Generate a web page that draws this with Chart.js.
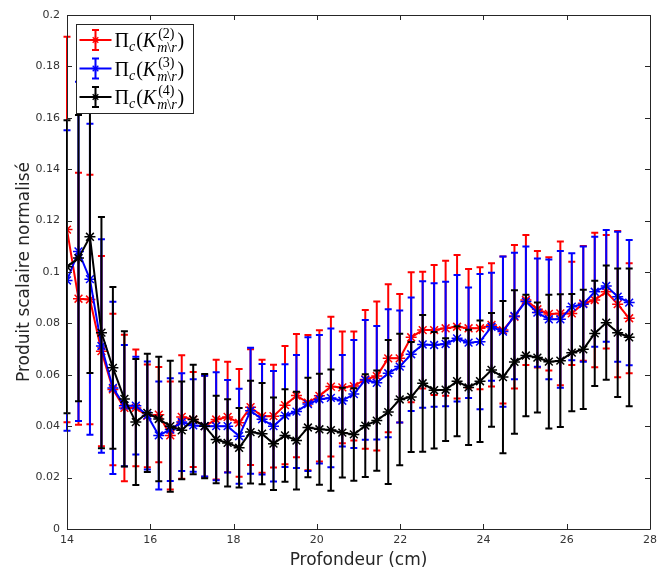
<!DOCTYPE html>
<html>
<head>
<meta charset="utf-8">
<script src="https://cdn.jsdelivr.net/npm/chart.js@4/dist/chart.umd.min.js"></script>
<style>
    body { margin: 0; background: #ffffff; }
    canvas { display: block; }
</style>
</head>
<body>
<canvas id="profileChart" width="662" height="573"></canvas>
<script>
// depth positions (cm)
const depth = [
    14.000, 14.276, 14.551, 14.827, 15.102, 15.378, 15.653, 15.929, 16.204, 16.480,
    16.755, 17.031, 17.306, 17.582, 17.857, 18.133, 18.408, 18.684, 18.959, 19.235,
    19.510, 19.786, 20.061, 20.337, 20.612, 20.888, 21.163, 21.439, 21.714, 21.990,
    22.265, 22.541, 22.816, 23.092, 23.367, 23.643, 23.918, 24.194, 24.469, 24.745,
    25.020, 25.296, 25.571, 25.847, 26.122, 26.398, 26.673, 26.949, 27.224, 27.500
];

// K(2)
const meanK2 = [
    0.1165, 0.0896, 0.0893, 0.0692, 0.0543, 0.0471, 0.0471, 0.0440, 0.0445, 0.0364,
    0.0436, 0.0426, 0.0400, 0.0426, 0.0436, 0.0413, 0.0474, 0.0439, 0.0439, 0.0482,
    0.0519, 0.0492, 0.0518, 0.0554, 0.0551, 0.0556, 0.0582, 0.0595, 0.0664, 0.0664,
    0.0746, 0.0774, 0.0774, 0.0781, 0.0787, 0.0781, 0.0781, 0.0794, 0.0774, 0.0826,
    0.0891, 0.0855, 0.0837, 0.0839, 0.0839, 0.0878, 0.0891, 0.0923, 0.0875, 0.0820
];
const errK2 = [
    0.0750, 0.0490, 0.0485, 0.0370, 0.0295, 0.0285, 0.0227, 0.0200, 0.0185, 0.0210,
    0.0240, 0.0185, 0.0197, 0.0233, 0.0215, 0.0210, 0.0225, 0.0220, 0.0200, 0.0230,
    0.0240, 0.0263, 0.0255, 0.0272, 0.0217, 0.0212, 0.0270, 0.0290, 0.0288, 0.0250,
    0.0253, 0.0227, 0.0253, 0.0263, 0.0279, 0.0231, 0.0237, 0.0240, 0.0286, 0.0279,
    0.0253, 0.0227, 0.0220, 0.0280, 0.0201, 0.0223, 0.0262, 0.0221, 0.0285, 0.0214
];

// K(3)
const meanK3 = [
    0.0967, 0.1080, 0.0972, 0.0712, 0.0549, 0.0480, 0.0480, 0.0442, 0.0364, 0.0387,
    0.0416, 0.0403, 0.0400, 0.0400, 0.0400, 0.0361, 0.0460, 0.0427, 0.0400, 0.0441,
    0.0457, 0.0486, 0.0505, 0.0510, 0.0499, 0.0525, 0.0580, 0.0569, 0.0606, 0.0632,
    0.0680, 0.0718, 0.0716, 0.0720, 0.0742, 0.0725, 0.0729, 0.0787, 0.0768, 0.0829,
    0.0885, 0.0842, 0.0816, 0.0816, 0.0865, 0.0875, 0.0923, 0.0946, 0.0904, 0.0881
];
const errK3 = [
    0.0585, 0.0660, 0.0605, 0.0415, 0.0335, 0.0236, 0.0190, 0.0210, 0.0210, 0.0200,
    0.0190, 0.0180, 0.0196, 0.0210, 0.0180, 0.0185, 0.0245, 0.0215, 0.0215, 0.0200,
    0.0220, 0.0260, 0.0250, 0.0270, 0.0178, 0.0210, 0.0233, 0.0221, 0.0249, 0.0218,
    0.0221, 0.0246, 0.0240, 0.0242, 0.0246, 0.0215, 0.0263, 0.0210, 0.0292, 0.0246,
    0.0214, 0.0211, 0.0233, 0.0266, 0.0208, 0.0224, 0.0214, 0.0217, 0.0253, 0.0244
];

// K(4)
const meanK4 = [
    0.1020, 0.1054, 0.1137, 0.0764, 0.0627, 0.0506, 0.0416, 0.0452, 0.0428, 0.0400,
    0.0384, 0.0426, 0.0400, 0.0348, 0.0335, 0.0316, 0.0377, 0.0371, 0.0332, 0.0364,
    0.0344, 0.0395, 0.0388, 0.0385, 0.0375, 0.0368, 0.0402, 0.0422, 0.0455, 0.0504,
    0.0514, 0.0567, 0.0540, 0.0542, 0.0575, 0.0551, 0.0575, 0.0619, 0.0591, 0.0650,
    0.0675, 0.0667, 0.0651, 0.0655, 0.0686, 0.0699, 0.0761, 0.0803, 0.0764, 0.0746
];
const errK4 = [
    0.0570, 0.0557, 0.0530, 0.0450, 0.0315, 0.0263, 0.0245, 0.0230, 0.0242, 0.0255,
    0.0190, 0.0213, 0.0203, 0.0170, 0.0170, 0.0155, 0.0200, 0.0197, 0.0180, 0.0180,
    0.0190, 0.0194, 0.0216, 0.0236, 0.0175, 0.0180, 0.0200, 0.0195, 0.0280, 0.0256,
    0.0214, 0.0266, 0.0227, 0.0200, 0.0214, 0.0224, 0.0236, 0.0221, 0.0296, 0.0279,
    0.0236, 0.0214, 0.0260, 0.0258, 0.0228, 0.0232, 0.0205, 0.0222, 0.0250, 0.0268
];

const seriesOrders = ['2', '3', '4'];
const seriesColors = ['#ff0000', '#0000ff', '#000000'];

const xTicks = [14, 16, 18, 20, 22, 24, 26, 28];

const axisColor = '#262626';
const capHalf = 3.5;

function makeDataset(mean, err, color, order) {
    return {
        data: depth.map((x, i) => ({ x: x, y: mean[i] })),
        errors: err,
        borderColor: color,
        backgroundColor: color,
        borderWidth: 2,
        tension: 0,
        pointStyle: 'star',
        pointRadius: 5.5,
        pointBorderWidth: 1.5,
        pointBorderColor: color,
        order: order
    };
}

// vertical error bars with caps, drawn just under each line
const errorBars = {
    id: 'errorBars',
    beforeDatasetDraw(chart, args) {
        const ds = chart.data.datasets[args.index];
        const xs = chart.scales.x;
        const ys = chart.scales.y;
        const c = chart.ctx;
        c.save();
        c.strokeStyle = ds.borderColor;
        c.lineWidth = 2;
        c.beginPath();
        ds.data.forEach((p, i) => {
            const px = xs.getPixelForValue(p.x);
            const top = ys.getPixelForValue(p.y + ds.errors[i]);
            const bot = ys.getPixelForValue(p.y - ds.errors[i]);
            c.moveTo(px, top);
            c.lineTo(px, bot);
            c.moveTo(px - capHalf, top);
            c.lineTo(px + capHalf, top);
            c.moveTo(px - capHalf, bot);
            c.lineTo(px + capHalf, bot);
        });
        c.stroke();
        c.restore();
    }
};

function drawAsterisk(c, x, y, r) {
    const d = r * Math.SQRT1_2;
    c.beginPath();
    c.moveTo(x - r, y); c.lineTo(x + r, y);
    c.moveTo(x, y - r); c.lineTo(x, y + r);
    c.moveTo(x - d, y - d); c.lineTo(x + d, y + d);
    c.moveTo(x - d, y + d); c.lineTo(x + d, y - d);
    c.stroke();
}

function drawLabel(c, x, baseline, order) {
    const big = '20px "Liberation Serif"';
    const small = '14px "Liberation Serif"';
    c.fillStyle = '#000000';
    c.textBaseline = 'alphabetic';
    c.textAlign = 'left';

    c.font = big;
    c.fillText('\u03A0', x, baseline);
    x += c.measureText('\u03A0').width;

    c.font = 'italic ' + small;
    c.fillText('c', x, baseline + 4);
    x += c.measureText('c').width + 1;

    c.font = big;
    c.fillText('(', x, baseline);
    x += c.measureText('(').width;

    c.font = 'italic ' + big;
    c.fillText('K', x, baseline);
    x += c.measureText('K').width + 1;

    c.font = small;
    const sup = '(' + order + ')';
    c.fillText(sup, x + 1, baseline - 9);
    const supW = c.measureText(sup).width + 1;

    let sx = x;
    c.font = 'italic ' + small;
    c.fillText('m', sx, baseline + 5);
    sx += c.measureText('m').width;
    c.font = small;
    c.fillText('\\', sx, baseline + 5);
    sx += c.measureText('\\').width;
    c.font = 'italic ' + small;
    c.fillText('r', sx, baseline + 5);
    sx += c.measureText('r').width;

    x = Math.max(x + supW, sx) + 1;
    c.font = big;
    c.fillText(')', x, baseline);
}

// axes box with inward ticks, then the legend on top
const frameAndLegend = {
    id: 'frameAndLegend',
    afterDraw(chart) {
        const c = chart.ctx;
        const area = chart.chartArea;
        const xs = chart.scales.x;
        const ys = chart.scales.y;
        const tl = 5;

        c.save();
        c.strokeStyle = axisColor;
        c.lineWidth = 1;
        c.beginPath();
        c.rect(Math.round(area.left) + 0.5, Math.round(area.top) + 0.5,
            Math.round(area.right - area.left), Math.round(area.bottom - area.top));
        xs.ticks.forEach(t => {
            const px = Math.round(xs.getPixelForValue(t.value)) + 0.5;
            c.moveTo(px, area.bottom); c.lineTo(px, area.bottom - tl);
            c.moveTo(px, area.top); c.lineTo(px, area.top + tl);
        });
        ys.ticks.forEach(t => {
            const py = Math.round(ys.getPixelForValue(t.value)) + 0.5;
            c.moveTo(area.left, py); c.lineTo(area.left + tl, py);
            c.moveTo(area.right, py); c.lineTo(area.right - tl, py);
        });
        c.stroke();

        // legend
        const lx = Math.round(area.left) + 9.5;
        const ly = Math.round(area.top) + 9.5;
        const lw = 117;
        const lh = 89;
        c.fillStyle = '#ffffff';
        c.fillRect(lx, ly, lw, lh);
        c.strokeStyle = axisColor;
        c.strokeRect(lx, ly, lw, lh);

        seriesOrders.forEach((order, k) => {
            const cy = ly + 15.5 + k * 28.5;
            const color = seriesColors[k];
            const mx = lx + 19;
            c.strokeStyle = color;
            c.lineWidth = 2;
            c.beginPath();
            c.moveTo(lx + 3, cy); c.lineTo(lx + 35, cy);
            c.moveTo(mx, cy - 10); c.lineTo(mx, cy + 10);
            c.moveTo(mx - capHalf, cy - 10); c.lineTo(mx + capHalf, cy - 10);
            c.moveTo(mx - capHalf, cy + 10); c.lineTo(mx + capHalf, cy + 10);
            c.stroke();
            c.lineWidth = 1.3;
            drawAsterisk(c, mx, cy, 4);
            drawLabel(c, lx + 38, cy + 7, order);
        });
        c.restore();
    }
};

const ctx = document.getElementById('profileChart').getContext('2d');
const profileChart = new Chart(ctx, {
    type: 'line',
    data: {
        datasets: [
            makeDataset(meanK2, errK2, seriesColors[0], 3),
            makeDataset(meanK3, errK3, seriesColors[1], 2),
            makeDataset(meanK4, errK4, seriesColors[2], 1)
        ]
    },
    options: {
        responsive: false,
        animation: false,
        events: [],
        layout: {
            padding: { left: 0, right: 8, top: 15, bottom: 0 }
        },
        plugins: {
            legend: { display: false },
            tooltip: { enabled: false }
        },
        scales: {
            x: {
                type: 'linear',
                min: 14,
                max: 28,
                afterBuildTicks(scale) {
                    scale.ticks = xTicks.map(v => ({ value: v }));
                },
                ticks: {
                    color: '#333333',
                    font: { family: '"DejaVu Sans"', size: 11 },
                    padding: 5,
                    maxRotation: 0
                },
                grid: { display: false, drawTicks: false },
                border: { display: false },
                title: {
                    display: true,
                    text: 'Profondeur (cm)',
                    color: axisColor,
                    font: { family: '"DejaVu Sans"', size: 17, lineHeight: 1.2 },
                    padding: { top: 0, bottom: 2 }
                },
                afterFit(scale) {
                    scale.height = 44;
                }
            },
            y: {
                min: 0,
                max: 0.2,
                ticks: {
                    stepSize: 0.02,
                    color: '#333333',
                    font: { family: '"DejaVu Sans"', size: 11 },
                    padding: 7,
                    callback: value => String(+value.toFixed(2))
                },
                grid: { display: false, drawTicks: false },
                border: { display: false },
                title: {
                    display: true,
                    text: 'Produit scalaire normalisé',
                    color: axisColor,
                    font: { family: '"DejaVu Sans"', size: 17, lineHeight: 1.2 },
                    padding: { top: 14, bottom: 0 }
                },
                afterFit(scale) {
                    scale.width = 67;
                }
            }
        }
    },
    plugins: [errorBars, frameAndLegend]
});
</script>
</body>
</html>
